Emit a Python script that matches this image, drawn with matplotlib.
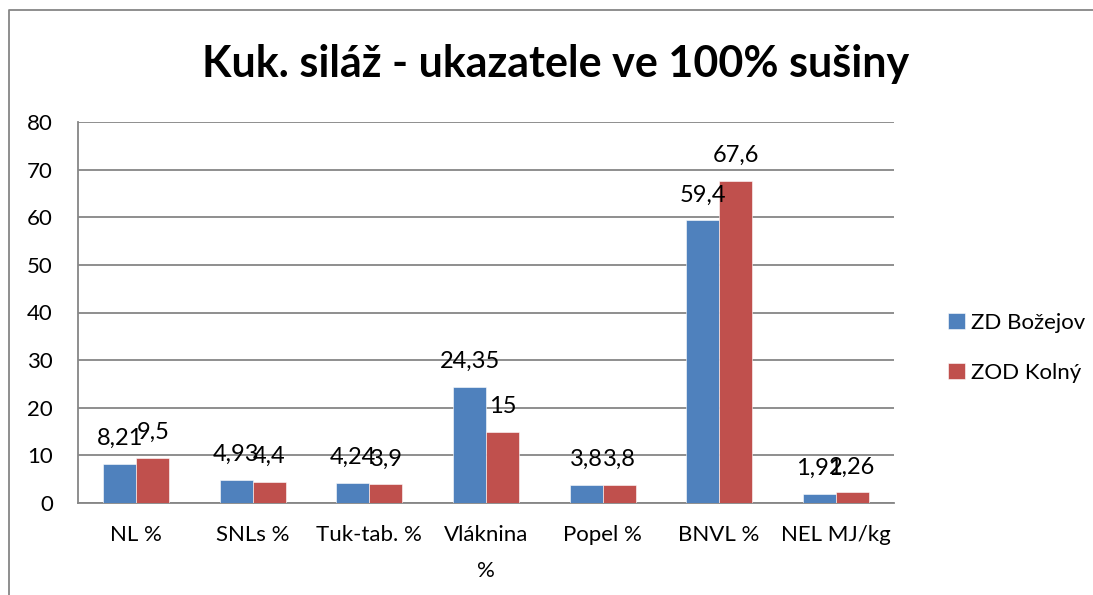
import numpy as np
import matplotlib
matplotlib.use('Agg')
import matplotlib.pyplot as plt
from matplotlib.lines import Line2D

plt.rcParams['font.family'] = ['Lato', 'DejaVu Sans']

# data
categories = ['NL %', 'SNLs %', 'Tuk-tab. %', 'Vláknina\n%', 'Popel %', 'BNVL %', 'NEL MJ/kg']
series_names = ['ZD Božejov', 'ZOD Kolný']
bozejov = [8.21, 4.93, 4.24, 24.35, 3.8, 59.4, 1.91]
kolny = [9.5, 4.4, 3.9, 15, 3.8, 67.6, 2.26]
colors = ['#4F81BD', '#C0504D']
y_ticks = [0, 10, 20, 30, 40, 50, 60, 70, 80]

W, H = 1093, 595
fig = plt.figure(figsize=(W / 100, H / 100), dpi=100)
ax = fig.add_axes([78 / W, 1 - 503 / H, (894 - 78) / W, (503 - 122) / H])

x = np.arange(len(categories))
bw = 0.283
for i, (vals, name) in enumerate(zip([bozejov, kolny], series_names)):
    pos = x + (i - 0.5) * bw
    ax.bar(pos, vals, width=bw, color=colors[i], label=name, zorder=3,
           edgecolor='white', linewidth=0.4)
    for p, v in zip(pos, vals):
        txt = f"{v:g}".replace('.', ',')
        ax.annotate(txt, (p, v), xytext=(0, 13.5), textcoords='offset points',
                    ha='center', va='baseline', fontsize=17, zorder=4)

ax.set_xlim(-0.5, len(categories) - 0.5)
ax.set_ylim(0, 80)
ax.set_yticks(y_ticks)
ax.set_yticklabels([str(t) for t in y_ticks], fontsize=16)
ax.set_xticks(x)
ax.set_xticklabels(categories, fontsize=16, va='top', linespacing=2.0)
ax.tick_params(axis='both', length=0)
ax.tick_params(axis='y', pad=18)
ax.tick_params(axis='x', pad=16)
ax.yaxis.grid(True, color='#868686', linewidth=1.3, zorder=0)
for s in ['top', 'right']:
    ax.spines[s].set_visible(False)
for s in ['left', 'bottom']:
    ax.spines[s].set_color('#868686')
    ax.spines[s].set_linewidth(1.3)

fig.text(556 / W, 1 - 64 / H, 'Kuk. siláž - ukazatele ve 100% sušiny',
         ha='center', va='center', fontsize=31, fontweight='bold')

fig.legend(loc='center left', bbox_to_anchor=(928 / W, 1 - 348 / H),
           frameon=False, fontsize=16, handlelength=0.75, handleheight=0.75,
           handletextpad=0.3, labelspacing=1.35)

# outer chart frame (left and top edges visible)
fig.add_artist(Line2D([9 / W, 9 / W, 1], [0, 1 - 10 / H, 1 - 10 / H],
                      transform=fig.transFigure, color='#868686', linewidth=1.3))

fig.savefig('out.png', dpi=100)
